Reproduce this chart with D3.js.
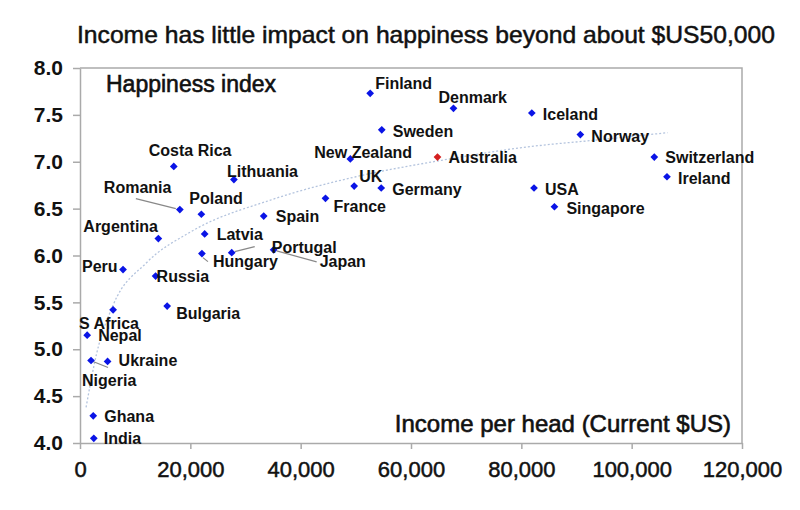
<!DOCTYPE html>
<html>
<head>
<meta charset="utf-8">
<script src="https://cdn.jsdelivr.net/npm/d3@7"></script>
<style>
  body { margin: 0; background: #fff; }
  svg text { font-family: "Liberation Sans", Arial, sans-serif; fill: #111; }
  .title { font-family: "Liberation Sans Narrow", "Liberation Sans", Arial, sans-serif; font-size: 24px;
           stroke: #111; stroke-width: 0.5px; }
  .ylab text { font-size: 21px; font-weight: bold; }
  .xlab text { font-size: 22px; stroke: #111; stroke-width: 0.5px; }
  .axis-title { stroke: #111; stroke-width: 0.6px; }
  .pt-label { font-size: 16px; font-weight: bold; }
</style>
</head>
<body>
<div id="chart"></div>
<script>
// chart values
var countries = ["Finland", "Denmark", "Iceland", "Sweden", "Norway", "New Zealand", "Australia",
  "Switzerland", "Ireland", "UK", "Germany", "USA", "France", "Singapore", "Costa Rica",
  "Lithuania", "Romania", "Poland", "Spain", "Argentina", "Latvia", "Hungary", "Portugal",
  "Japan", "Peru", "Russia", "Bulgaria", "S Africa", "Nepal", "Nigeria", "Ukraine", "Ghana", "India"];
var income = [52600, 67700, 81900, 54700, 90700, 49000, 64800,
  104100, 106400, 49700, 54600, 82300, 44500, 86000, 17000,
  27900, 18100, 22000, 33300, 14200, 22600, 22100, 27500,
  35100, 7800, 13700, 15800, 6000, 1300, 2000, 5000, 2400, 2500];
var happiness = [7.73, 7.57, 7.52, 7.34, 7.29, 7.03, 7.05,
  7.05, 6.84, 6.74, 6.72, 6.72, 6.61, 6.52, 6.95,
  6.81, 6.49, 6.44, 6.42, 6.18, 6.23, 6.02, 6.03,
  6.06, 5.85, 5.78, 5.46, 5.42, 5.15, 4.88, 4.87, 4.29, 4.05];

// dotted trend curve
var trendIncome = [1100, 3000, 6000, 12000, 20000, 35000, 50000, 65000, 80000, 95000, 106500];
var trendHappy = [4.38, 4.95, 5.47, 5.92, 6.25, 6.60, 6.84, 7.01, 7.15, 7.24, 7.31];

var xTicks = [0, 20000, 40000, 60000, 80000, 100000, 120000];
var yTicks = [4.0, 4.5, 5.0, 5.5, 6.0, 6.5, 7.0, 7.5, 8.0];

// label placement: offset from the point (dx, dy) and optional leader line
var labelPos = {
  "Finland": [5, -4], "Denmark": [-15, -5], "Iceland": [11, 7], "Sweden": [11, 7],
  "Norway": [11, 7], "New Zealand": [-36, -1], "Australia": [11, 6], "Switzerland": [11, 6],
  "Ireland": [11, 7], "UK": [5, -4], "Germany": [11, 7], "USA": [11, 7], "France": [8, 14],
  "Singapore": [12, 7], "Costa Rica": [-25, -10], "Lithuania": [-7, -3], "Romania": [-76, -17],
  "Poland": [-12, -10], "Spain": [12, 6], "Argentina": [-75, -7], "Latvia": [12, 6],
  "Hungary": [11, 13], "Portugal": [40, 0], "Japan": [46, 17], "Peru": [-41, 2],
  "Russia": [1, 6], "Bulgaria": [9, 13], "S Africa": [-34, 19], "Nepal": [11, 6],
  "Nigeria": [-9, 25], "Ukraine": [11, 5], "Ghana": [11, 6], "India": [10, 6]
};
var leaders = {
  "Romania": [-44, -11, -4, -1], "Hungary": [1, 4, 6, 8], "Portugal": [3, -1, 23, -6],
  "Japan": [3, 1, 43, 12], "Nigeria": [2, 1, 17, 7]
};

var width = 800, height = 510;
var margin = {top: 68, right: 58, bottom: 67, left: 80};

var svg = d3.select("#chart").append("svg")
    .attr("width", width)
    .attr("height", height);

var x = d3.scaleLinear().domain([0, 120000]).range([margin.left, width - margin.right]);
var y = d3.scaleLinear().domain([4, 8]).range([height - margin.bottom, margin.top]);

// title
svg.append("text")
    .attr("class", "title")
    .attr("x", 77)
    .attr("y", 43)
    .attr("textLength", 698)
    .attr("lengthAdjust", "spacingAndGlyphs")
    .text("Income has little impact on happiness beyond about $US50,000");

// frame (top and right)
svg.append("path")
    .attr("d", "M" + x(0) + "," + y(8) + "H" + x(120000) + "V" + y(4))
    .attr("fill", "none")
    .attr("stroke", "#aaa")
    .attr("stroke-width", 1.5);

// axes
var xAxis = d3.axisBottom(x).tickValues(xTicks).tickSize(6).tickSizeOuter(0)
    .tickFormat(d3.format(",")).tickPadding(12);
var yAxis = d3.axisLeft(y).tickValues(yTicks).tickSize(7).tickSizeOuter(0)
    .tickFormat(d3.format(".1f")).tickPadding(10);

svg.append("g")
    .attr("class", "xlab")
    .attr("transform", "translate(0," + y(4) + ")")
    .call(xAxis);

svg.append("g")
    .attr("class", "ylab")
    .attr("transform", "translate(" + x(0) + ",0)")
    .call(yAxis);

svg.selectAll(".domain, .tick line")
    .attr("stroke", "#aaa")
    .attr("stroke-width", 1.5);
svg.selectAll(".tick text").attr("fill", "#111");

// axis titles inside the plot
svg.append("text")
    .attr("class", "axis-title")
    .attr("x", 106)
    .attr("y", 92)
    .style("font-size", "23px")
    .text("Happiness index");

svg.append("text")
    .attr("class", "axis-title")
    .attr("x", 731)
    .attr("y", 432)
    .attr("text-anchor", "end")
    .style("font-size", "24px")
    .text("Income per head (Current $US)");

// trend curve
var trend = trendIncome.map(function(d, i) { return [d, trendHappy[i]]; });
svg.append("path")
    .datum(trend)
    .attr("fill", "none")
    .attr("stroke", "#b4c4de")
    .attr("stroke-width", 1.3)
    .attr("stroke-dasharray", "2,2")
    .attr("d", d3.line()
        .x(function(d) { return x(d[0]); })
        .y(function(d) { return y(d[1]); })
        .curve(d3.curveMonotoneX));

var points = countries.map(function(c, i) {
  return {name: c, income: income[i], happy: happiness[i]};
});

// leader lines
svg.selectAll(".leader")
    .data(points.filter(function(d) { return leaders[d.name]; }))
  .enter().append("line")
    .attr("class", "leader")
    .attr("x1", function(d) { return x(d.income) + leaders[d.name][0]; })
    .attr("y1", function(d) { return y(d.happy) + leaders[d.name][1]; })
    .attr("x2", function(d) { return x(d.income) + leaders[d.name][2]; })
    .attr("y2", function(d) { return y(d.happy) + leaders[d.name][3]; })
    .attr("stroke", "#888")
    .attr("stroke-width", 1.2);

// diamonds
svg.selectAll(".pt")
    .data(points)
  .enter().append("path")
    .attr("class", "pt")
    .attr("d", d3.symbol().type(d3.symbolSquare).size(30))
    .attr("transform", function(d) {
      return "translate(" + x(d.income) + "," + y(d.happy) + ") rotate(45)";
    })
    .attr("fill", function(d) { return d.name == "Australia" ? "#d42020" : "#0a14e6"; });

// country labels
svg.selectAll(".pt-label")
    .data(points)
  .enter().append("text")
    .attr("class", "pt-label")
    .attr("x", function(d) { return x(d.income) + labelPos[d.name][0]; })
    .attr("y", function(d) { return y(d.happy) + labelPos[d.name][1]; })
    .text(function(d) { return d.name; });
</script>
</body>
</html>
